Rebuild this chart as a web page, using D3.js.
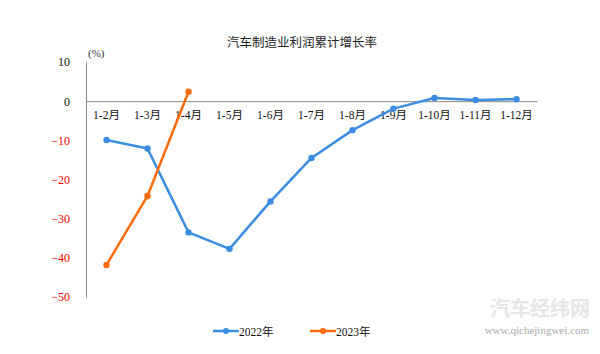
<!DOCTYPE html>
<html>
<head>
<meta charset="utf-8">
<script src="https://cdn.jsdelivr.net/npm/d3@7"></script>
<style>
  body { margin: 0; background: #fff; }
  svg { display: block; }
  text { font-family: "Liberation Serif", "Noto Sans CJK SC", serif; }
</style>
</head>
<body>
<div id="chart"></div>
<script>
// categories & values
const months = ["1-2月", "1-3月", "1-4月", "1-5月", "1-6月", "1-7月", "1-8月", "1-9月", "1-10月", "1-11月", "1-12月"];
const y2022 = [-9.9, -12.1, -33.5, -37.7, -25.6, -14.5, -7.4, -1.9, 0.8, 0.3, 0.5];
const y2023 = [-41.8, -24.2, 2.4];
const yTicks = [10, 0, -10, -20, -30, -40, -50];

const W = 600, H = 354;
const margin = { top: 62, right: 63, bottom: 57, left: 86 };

const svg = d3.select("#chart").append("svg")
    .attr("width", W)
    .attr("height", H);

const x = d3.scaleBand().domain(months).range([margin.left, W - margin.right]);
const y = d3.scaleLinear().domain([-50, 10]).range([H - margin.bottom, margin.top]);

// title
svg.append("text")
    .attr("x", 302).attr("y", 47)
    .attr("text-anchor", "middle")
    .attr("font-size", 12.5)
    .attr("fill", "#222")
    .text("汽车制造业利润累计增长率");

// unit
svg.append("text")
    .attr("x", 88).attr("y", 57)
    .attr("font-size", 11)
    .attr("fill", "#333")
    .text("(%)");

// y axis
const yAxis = svg.append("g")
    .attr("transform", `translate(${margin.left},0)`)
    .call(d3.axisLeft(y).tickValues(yTicks).tickSize(0).tickPadding(16)
        .tickFormat(d => d < 0 ? "\u2212" + Math.abs(d) : d));
yAxis.select(".domain").attr("stroke", "#888").attr("stroke-width", 1);
yAxis.selectAll(".tick text")
    .attr("font-size", 12)
    .attr("font-family", "Liberation Serif, serif")
    .style("fill", d => d < 0 ? "#ff0000" : "#111");

// zero line + category labels
const xAxis = svg.append("g")
    .attr("transform", `translate(0,${y(0)})`)
    .call(d3.axisBottom(x).tickSize(0).tickPadding(10));
xAxis.select(".domain").attr("stroke", "#888").attr("stroke-width", 1);
xAxis.selectAll(".tick text")
    .attr("font-size", 11.5)
    .style("fill", "#111");

const cx = d => x(d) + x.bandwidth() / 2;
const line = d3.line().x(d => cx(d.m)).y(d => y(d.v));

const series = [
    { name: "2022年", color: "#3a8de0", values: y2022 },
    { name: "2023年", color: "#ff6a0a", values: y2023 }
];

series.forEach(s => {
    const pts = s.values.map((v, i) => ({ m: months[i], v }));
    svg.append("path")
        .datum(pts)
        .attr("fill", "none")
        .attr("stroke", s.color)
        .attr("stroke-width", 2.5)
        .attr("stroke-linejoin", "round")
        .attr("d", line);
    svg.selectAll(null)
        .data(pts)
        .enter()
        .append("circle")
        .attr("cx", d => cx(d.m))
        .attr("cy", d => y(d.v))
        .attr("r", 3.2)
        .attr("fill", s.color);
});

// legend
const legend = svg.append("g").attr("transform", "translate(213,331)");
series.forEach((s, i) => {
    const g = legend.append("g").attr("transform", `translate(${i * 97},0)`);
    g.append("line").attr("x1", 0).attr("x2", 26).attr("y1", 0).attr("y2", 0)
        .attr("stroke", s.color).attr("stroke-width", 2.5);
    g.append("circle").attr("cx", 13).attr("cy", 0).attr("r", 3).attr("fill", s.color);
    g.append("text").attr("x", 26).attr("y", 4.5)
        .attr("font-size", 11.5).attr("fill", "#111").text(s.name);
});

// watermark
svg.append("text")
    .attr("x", 590).attr("y", 316)
    .attr("text-anchor", "end")
    .attr("font-size", 20)
    .attr("font-weight", "bold")
    .attr("font-family", "Noto Sans CJK SC, sans-serif")
    .attr("fill", "#e6e6e6")
    .text("汽车经纬网");
svg.append("text")
    .attr("x", 589).attr("y", 334)
    .attr("text-anchor", "end")
    .attr("font-size", 11)
    .attr("font-family", "Noto Sans, sans-serif")
    .attr("fill", "#aaa")
    .text("www.qichejingwei.com");
</script>
</body>
</html>
